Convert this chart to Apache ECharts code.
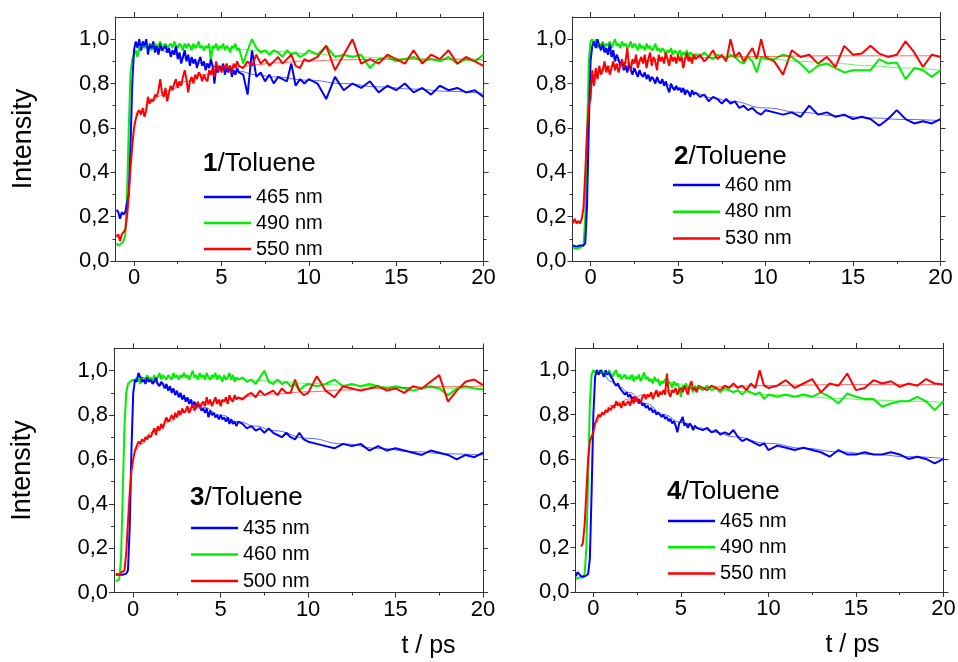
<!DOCTYPE html>
<html>
<head>
<meta charset="utf-8">
<script src="https://cdn.jsdelivr.net/npm/echarts@6/dist/echarts.min.js"></script>
<style>
  html, body { margin: 0; padding: 0; background: #fff; }
  #chart { width: 958px; height: 662px; }
</style>
</head>
<body>
<div id="chart"></div>
<script>
// Delay times (ps) shared by all transients: dense near time zero, sparser later
const timePs = [
  -1.0,-0.9,-0.8,-0.7,-0.6,-0.5,-0.4,-0.3,-0.2,-0.1,
  0.0,0.1,0.2,0.3,0.4,0.5,0.6,0.7,0.8,0.9,
  1.0,1.1,1.2,1.3,1.4,1.5,1.6,1.7,1.8,1.9,
  2.0,2.1,2.2,2.3,2.4,2.5,2.6,2.7,2.8,2.9,
  3.0,3.1,3.2,3.3,3.4,3.5,3.6,3.7,3.8,3.9,
  4.0,4.1,4.2,4.3,4.4,4.5,4.6,4.7,4.8,4.9,
  5.0,5.1,5.2,5.3,5.4,5.5,5.6,5.7,5.8,5.9,
  6.0,
  6.25,6.5,6.75,7.0,7.25,7.5,7.75,8.0,8.25,8.5,8.75,9.0,9.25,9.5,9.75,10.0,
  10.5,11,11.5,12,12.5,13,13.5,14,14.5,15,15.5,16,16.5,17,17.5,18,18.5,19,19.5,20
];

// Times at which the fitted curves are tabulated
const fitTime = [0.2,0.5,1,1.5,2,3,4,5,6,7,8,10,12,14,16,18,20];

// Axis ticks
const timeTicks = [0, 5, 10, 15, 20];
const timeMinorTicks = [2.5, 7.5, 12.5, 17.5];
const intensityTicks = [0, 0.2, 0.4, 0.6, 0.8, 1.0];
const intensityMinorTicks = [0.1, 0.3, 0.5, 0.7, 0.9];

// Probe wavelengths per compound
const waves1 = ['465 nm', '490 nm', '550 nm'];
const waves2 = ['460 nm', '480 nm', '530 nm'];
const waves3 = ['435 nm', '460 nm', '500 nm'];
const waves4 = ['465 nm', '490 nm', '550 nm'];

// ---- Compound 1 / toluene ----
const p1Blue = [
  0.23,0.22,0.19,0.22,0.21,0.22,0.22,0.30,0.52,0.80,
  0.95,0.99,0.96,1.00,0.95,0.99,0.97,1.00,0.93,0.98,
  0.96,0.99,0.94,0.97,0.93,0.98,0.95,0.96,0.97,0.94,
  0.96,0.92,0.95,0.93,0.97,0.91,0.94,0.89,0.92,0.95,
  0.90,0.93,0.88,0.92,0.89,0.91,0.87,0.90,0.92,0.88,
  0.90,0.86,0.89,0.87,0.91,0.88,0.80,0.87,0.85,0.88,
  0.86,0.89,0.84,0.87,0.85,0.88,0.83,0.86,0.84,0.87,
  0.85,
  0.84,0.75,0.95,0.83,0.85,0.81,0.84,0.80,0.83,0.82,0.81,0.89,0.79,0.82,0.80,0.82,
  0.80,0.73,0.83,0.77,0.80,0.78,0.81,0.76,0.79,0.77,0.80,0.76,0.78,0.75,0.79,0.77,0.78,0.76,0.77,0.74
];
const p1Green = [
  0.08,0.07,0.07,0.08,0.09,0.12,0.30,0.60,0.85,0.91,
  0.93,0.95,0.92,0.96,0.95,0.97,0.96,0.98,0.96,0.97,
  0.95,0.97,0.98,0.96,0.97,0.99,0.96,0.97,0.98,0.96,
  0.97,0.98,0.96,0.99,0.97,0.96,0.98,0.97,0.95,0.98,
  0.96,0.98,0.97,0.95,0.98,0.96,0.97,0.99,0.96,0.97,
  0.95,0.97,0.96,0.98,0.90,0.97,0.96,0.98,0.95,0.97,
  0.96,0.98,0.95,0.97,0.96,0.94,0.97,0.96,0.98,0.95,
  0.96,
  0.89,0.95,1.00,0.96,0.94,0.95,0.93,0.95,0.94,0.92,0.95,0.93,0.94,0.92,0.93,0.95,
  0.93,0.97,0.92,0.93,0.92,0.93,0.87,0.91,0.92,0.90,0.91,0.92,0.90,0.91,0.90,0.92,0.89,0.91,0.90,0.93
];
const p1Red = [
  0.11,0.12,0.09,0.12,0.13,0.14,0.20,0.30,0.42,0.52,
  0.60,0.64,0.67,0.68,0.66,0.69,0.65,0.68,0.74,0.71,
  0.73,0.72,0.75,0.74,0.77,0.82,0.76,0.74,0.78,0.72,
  0.76,0.79,0.77,0.80,0.82,0.78,0.81,0.79,0.83,0.86,
  0.82,0.76,0.81,0.83,0.80,0.84,0.82,0.85,0.84,0.81,
  0.84,0.82,0.81,0.86,0.84,0.87,0.83,0.90,0.86,0.88,
  0.85,0.88,0.87,0.89,0.86,0.88,0.85,0.89,0.87,0.90,
  0.88,
  0.87,0.90,0.88,0.93,0.89,0.91,0.88,0.90,0.92,0.89,0.91,0.93,0.88,0.87,0.91,0.90,
  0.92,0.97,0.86,0.93,1.00,0.89,0.91,0.89,0.93,0.91,0.89,0.95,0.89,0.93,0.91,0.95,0.89,0.92,0.90,0.88
];
const p1BlueFit  = [0.98,0.97,0.96,0.95,0.94,0.915,0.89,0.87,0.855,0.84,0.83,0.815,0.80,0.785,0.775,0.765,0.755];
const p1GreenFit = [0.96,0.97,0.975,0.975,0.972,0.968,0.964,0.96,0.955,0.95,0.945,0.935,0.925,0.918,0.912,0.907,0.905];
const p1RedFit   = [0.65,0.68,0.72,0.745,0.77,0.81,0.84,0.86,0.875,0.885,0.893,0.902,0.907,0.909,0.91,0.91,0.91];

// ---- Compound 2 / toluene ----
const p2Blue = [
  0.07,0.07,0.065,0.07,0.07,0.065,0.07,0.08,0.25,0.60,
  0.90,0.97,0.99,0.96,1.00,0.97,0.95,0.98,0.94,0.96,
  0.93,0.98,0.92,0.95,0.90,0.93,0.91,0.88,0.90,0.86,
  0.88,0.85,0.89,0.86,0.84,0.87,0.85,0.83,0.86,0.84,
  0.83,0.85,0.82,0.84,0.81,0.83,0.82,0.80,0.83,0.81,
  0.80,0.82,0.79,0.81,0.78,0.76,0.80,0.78,0.77,0.79,
  0.77,0.78,0.76,0.78,0.75,0.77,0.76,0.74,0.77,0.75,
  0.76,
  0.74,0.75,0.72,0.74,0.73,0.71,0.73,0.71,0.72,0.69,0.70,0.68,0.69,0.67,0.66,0.68,
  0.67,0.66,0.67,0.65,0.70,0.66,0.67,0.65,0.66,0.64,0.65,0.64,0.61,0.64,0.68,0.64,0.62,0.63,0.62,0.64
];
const p2Green = [
  0.06,0.06,0.055,0.06,0.06,0.06,0.07,0.20,0.55,0.90,
  0.99,1.00,0.97,1.00,0.96,0.98,0.97,0.99,0.96,0.98,
  0.97,0.99,0.96,0.98,1.00,0.97,0.98,0.96,0.99,0.97,
  0.98,0.96,0.97,0.99,0.96,0.98,0.97,0.95,0.98,0.96,
  0.97,0.95,0.98,0.96,0.97,0.95,0.96,0.98,0.95,0.96,
  0.94,0.96,0.95,0.93,0.95,0.94,0.96,0.93,0.95,0.94,
  0.93,0.95,0.92,0.94,0.93,0.95,0.92,0.94,0.93,0.91,
  0.93,
  0.92,0.94,0.92,0.91,0.93,0.92,0.91,0.93,0.92,0.90,0.89,0.92,0.90,0.85,0.92,0.91,
  0.91,0.93,0.92,0.89,0.85,0.88,0.89,0.87,0.85,0.86,0.86,0.86,0.91,0.89,0.895,0.82,0.87,0.86,0.83,0.86
];
const p2Red = [
  0.17,0.19,0.17,0.18,0.17,0.19,0.24,0.40,0.58,0.70,
  0.73,0.86,0.79,0.87,0.82,0.88,0.84,0.86,0.90,0.85,
  0.88,0.84,0.87,0.90,0.86,0.89,0.85,0.88,0.91,0.87,
  0.90,0.96,0.88,0.86,0.91,0.89,0.93,0.87,0.90,0.92,
  0.89,0.93,0.87,0.91,0.94,0.88,0.92,0.90,0.86,0.93,
  0.90,0.92,0.89,0.94,0.91,0.88,0.93,0.90,0.92,0.89,
  0.93,0.90,0.92,0.87,0.91,0.94,0.90,0.92,0.89,0.93,
  0.91,
  0.93,0.90,0.92,0.95,0.91,0.93,0.90,1.00,0.92,0.94,0.90,0.93,0.96,0.91,1.00,0.92,
  0.90,0.84,0.95,0.92,0.93,0.89,0.92,0.875,0.97,0.93,0.935,0.97,0.935,0.92,0.93,0.99,0.94,0.875,0.93,0.92
];
const p2BlueFit  = [0.99,0.97,0.935,0.905,0.88,0.84,0.805,0.78,0.755,0.735,0.72,0.69,0.67,0.655,0.645,0.638,0.633];
const p2GreenFit = [0.98,0.978,0.975,0.972,0.97,0.96,0.952,0.943,0.935,0.928,0.922,0.912,0.90,0.89,0.88,0.87,0.86];
const p2RedFit   = [0.80,0.85,0.875,0.885,0.893,0.903,0.91,0.913,0.916,0.918,0.92,0.922,0.924,0.925,0.925,0.925,0.925];

// ---- Compound 3 / toluene ----
const p3Blue = [
  0.08,0.08,0.08,0.085,0.08,0.08,0.085,0.10,0.30,0.65,
  0.90,0.96,0.95,0.99,0.97,0.95,0.96,0.94,0.97,0.95,
  0.96,0.94,0.95,0.97,0.94,0.93,0.95,0.94,0.92,0.94,
  0.91,0.93,0.90,0.92,0.89,0.91,0.88,0.90,0.87,0.89,
  0.86,0.88,0.85,0.87,0.84,0.86,0.83,0.85,0.84,0.82,
  0.83,0.81,0.83,0.79,0.82,0.80,0.81,0.79,0.80,0.78,
  0.80,0.78,0.79,0.77,0.79,0.76,0.78,0.76,0.77,0.75,
  0.77,
  0.76,0.74,0.75,0.73,0.74,0.72,0.74,0.72,0.71,0.70,0.72,0.70,0.69,0.72,0.69,0.68,
  0.67,0.66,0.65,0.67,0.66,0.67,0.64,0.66,0.64,0.65,0.64,0.63,0.62,0.64,0.63,0.62,0.60,0.62,0.61,0.63
];
const p3Green = [
  0.05,0.05,0.06,0.15,0.45,0.75,0.90,0.94,0.95,0.95,
  0.96,0.95,0.97,0.96,0.94,0.97,0.95,0.96,0.98,0.96,
  0.97,0.95,0.98,0.96,0.97,0.99,0.96,0.98,0.97,0.96,
  0.98,0.97,0.96,0.99,0.97,0.98,0.96,0.98,0.97,0.99,
  0.97,0.98,0.96,0.98,1.00,0.97,0.98,0.96,0.99,0.97,
  0.98,0.96,0.99,0.97,0.96,0.98,0.97,0.99,0.96,0.98,
  0.97,0.95,0.98,0.96,0.97,0.99,0.96,0.98,0.95,0.97,
  0.96,
  0.97,0.95,0.96,0.94,0.97,1.00,0.95,0.94,0.96,0.94,0.95,0.93,0.94,0.91,0.93,0.94,
  0.93,0.94,0.96,0.93,0.94,0.93,0.94,0.93,0.92,0.93,0.92,0.91,0.92,0.93,0.92,0.89,0.92,0.93,0.92,0.915
];
const p3Red = [
  0.085,0.085,0.08,0.09,0.085,0.10,0.18,0.32,0.45,0.55,
  0.60,0.64,0.66,0.68,0.67,0.69,0.68,0.70,0.69,0.71,
  0.70,0.72,0.74,0.71,0.75,0.73,0.76,0.74,0.77,0.79,
  0.77,0.78,0.80,0.78,0.81,0.79,0.82,0.80,0.83,0.81,
  0.82,0.84,0.81,0.83,0.85,0.82,0.84,0.86,0.83,0.85,
  0.86,0.84,0.88,0.85,0.87,0.84,0.86,0.88,0.85,0.87,
  0.84,0.87,0.86,0.88,0.85,0.89,0.87,0.86,0.89,0.87,
  0.88,
  0.87,0.89,0.90,0.88,0.91,0.89,0.90,0.91,0.89,0.92,0.90,0.90,0.96,0.91,0.89,0.90,
  0.975,0.91,0.88,0.93,0.92,0.91,0.92,0.93,0.91,0.92,0.90,0.93,0.92,0.95,0.98,0.86,0.91,0.95,0.96,0.935
];
const p3BlueFit  = [0.98,0.97,0.955,0.94,0.92,0.875,0.835,0.80,0.77,0.75,0.73,0.695,0.67,0.65,0.635,0.625,0.62];
const p3GreenFit = [0.96,0.965,0.968,0.97,0.97,0.968,0.966,0.963,0.96,0.957,0.953,0.943,0.935,0.928,0.924,0.921,0.92];
const p3RedFit   = [0.64,0.67,0.72,0.745,0.77,0.815,0.845,0.865,0.878,0.888,0.895,0.905,0.913,0.92,0.925,0.928,0.93];

// ---- Compound 4 / toluene ----
const p4Blue = [
  0.07,0.09,0.08,0.07,0.07,0.07,0.07,0.08,0.15,0.45,
  0.80,0.97,1.00,0.98,1.00,0.99,0.97,1.00,0.98,0.99,
  0.97,0.96,0.94,0.93,0.94,0.92,0.91,0.90,0.89,0.90,
  0.88,0.89,0.87,0.88,0.86,0.87,0.85,0.86,0.84,0.85,
  0.83,0.84,0.82,0.83,0.81,0.82,0.80,0.81,0.80,0.79,
  0.80,0.78,0.79,0.77,0.78,0.76,0.77,0.75,0.72,0.76,
  0.77,0.79,0.75,0.76,0.74,0.76,0.75,0.73,0.75,0.74,
  0.74,
  0.73,0.74,0.72,0.73,0.71,0.72,0.71,0.73,0.70,0.68,0.69,0.68,0.67,0.66,0.67,0.64,
  0.66,0.65,0.64,0.65,0.64,0.63,0.61,0.64,0.62,0.62,0.63,0.62,0.62,0.63,0.62,0.60,0.61,0.60,0.58,0.60
];
const p4Green = [
  0.06,0.06,0.065,0.06,0.065,0.08,0.20,0.50,0.85,0.98,
  1.00,0.99,1.00,0.98,0.99,1.00,0.97,0.99,0.98,1.00,
  0.98,0.97,0.99,1.00,0.97,0.98,0.96,0.97,0.98,0.96,
  0.97,0.96,0.98,0.95,0.97,0.96,0.98,0.95,0.97,0.99,
  0.96,0.97,0.95,0.96,0.94,0.97,0.95,0.96,0.93,0.95,
  0.94,0.96,0.93,0.95,0.94,0.92,0.95,0.93,0.94,0.92,
  0.88,0.93,0.92,0.94,0.91,0.93,0.92,0.90,0.93,0.91,
  0.92,
  0.91,0.93,0.91,0.92,0.90,0.92,0.91,0.90,0.91,0.89,0.91,0.90,0.89,0.90,0.87,0.89,
  0.88,0.89,0.88,0.89,0.88,0.90,0.88,0.85,0.895,0.88,0.87,0.87,0.835,0.85,0.86,0.86,0.88,0.86,0.82,0.86
];
const p4Red = [
  null,null,null,0.205,0.22,0.30,0.45,0.60,0.68,0.70,
  0.72,0.76,0.78,0.80,0.79,0.81,0.80,0.82,0.81,0.83,
  0.82,0.84,0.83,0.86,0.84,0.85,0.83,0.86,0.84,0.85,
  0.86,0.84,0.87,0.85,0.88,0.86,0.87,0.85,0.88,0.89,
  0.87,0.89,0.88,0.90,0.87,0.89,0.91,0.88,0.90,0.89,
  0.91,0.89,0.985,0.90,0.88,0.91,0.90,0.92,0.89,0.91,
  0.92,0.90,0.93,0.91,0.89,0.93,0.95,0.91,0.92,0.90,
  0.93,
  0.92,0.91,0.93,0.92,0.91,0.93,0.92,0.94,0.92,0.93,0.91,0.94,0.92,1.00,0.93,0.92,
  0.93,0.955,0.92,0.94,0.96,0.90,0.94,0.93,0.985,0.91,0.92,0.955,0.94,0.95,0.925,0.94,0.93,0.96,0.94,0.935
];
const p4BlueFit  = [1.0,0.985,0.95,0.925,0.90,0.85,0.80,0.765,0.74,0.72,0.70,0.67,0.648,0.632,0.62,0.61,0.602];
const p4GreenFit = [0.995,0.99,0.985,0.98,0.975,0.962,0.95,0.937,0.925,0.914,0.905,0.89,0.88,0.872,0.865,0.86,0.855];
const p4RedFit   = [0.76,0.80,0.84,0.855,0.87,0.89,0.905,0.915,0.92,0.925,0.928,0.931,0.933,0.935,0.935,0.935,0.935];

// ---------------------------------------------------------------
const FONT = '"Liberation Sans", Arial, Helvetica, sans-serif';
const AXIS_COLOR = '#333';
const BLUE = '#0000ff', GREEN = '#00ee00', RED = '#ff0000';
const PANEL_H = 244;

// Layout of the four panels (pixel boxes) and their legends / headings
const panels = [
  { tag: '1', waves: waves1, data: [p1Blue, p1Green, p1Red], fits: [p1BlueFit, p1GreenFit, p1RedFit],
    box: { left: 115.5, top: 17, width: 368 }, xMin: -1.06, leftCol: true, bottomRow: false,
    legend: { left: 204, top: 187, gap: 6 }, heading: { left: 203, top: 151 } },
  { tag: '2', waves: waves2, data: [p2Blue, p2Green, p2Red], fits: [p2BlueFit, p2GreenFit, p2RedFit],
    box: { left: 572.5, top: 17, width: 368 }, xMin: -1.03, leftCol: false, bottomRow: false,
    legend: { left: 673, top: 175, gap: 6.7 }, heading: { left: 674, top: 143.5 } },
  { tag: '3', waves: waves3, data: [p3Blue, p3Green, p3Red], fits: [p3BlueFit, p3GreenFit, p3RedFit],
    box: { left: 114, top: 348.5, width: 369 }, xMin: -1.1, leftCol: true, bottomRow: true, nameShift: 130,
    legend: { left: 191, top: 518, gap: 6.5 }, heading: { left: 190, top: 484.5 } },
  { tag: '4', waves: waves4, data: [p4Blue, p4Green, p4Red], fits: [p4BlueFit, p4GreenFit, p4RedFit],
    box: { left: 575.5, top: 348, width: 368 }, xMin: -1.02, leftCol: false, bottomRow: true, nameShift: 93,
    legend: { left: 668, top: 511, gap: 6.3 }, heading: { left: 667, top: 479 } }
];

const colors = [BLUE, GREEN, RED];
const drawOrder = [1, 0, 2];   // green underneath, then blue, red on top

const grids = [], xAxes = [], yAxes = [], series = [], legends = [], titles = [];
const fmtIntensity = v => v.toFixed(1).replace('.', ',');

panels.forEach((p, k) => {
  // each panel: a main grid (major ticks, labels, frame) and a twin grid carrying the minor ticks
  [false, true].forEach(minor => {
    const gi = grids.length;
    grids.push({ left: p.box.left, top: p.box.top, width: p.box.width, height: PANEL_H,
                 containLabel: false, outerBoundsMode: 'none' });
    const len = minor ? 3 : 5;
    ['bottom', 'top'].forEach(pos => {
      const labelled = !minor && pos === 'bottom';
      const ax = {
        gridIndex: gi, type: 'value', position: pos, min: p.xMin, max: 20,
        axisLine: { show: !minor, onZero: false, lineStyle: { color: AXIS_COLOR, width: 1 } },
        axisTick: { show: true, inside: false, length: len,
                    customValues: minor ? timeMinorTicks : timeTicks,
                    lineStyle: { color: AXIS_COLOR, width: 1 } },
        axisLabel: { show: labelled, customValues: timeTicks, margin: 6,
                     fontSize: 22, color: '#000', fontFamily: FONT },
        splitLine: { show: false }, minorTick: { show: false }
      };
      if (labelled && p.bottomRow) {
        Object.assign(ax, { name: 't / ps', nameLocation: 'middle', nameGap: 41,
          nameTextStyle: { fontSize: 25, color: '#000', fontFamily: FONT,
                           padding: [0, 0, 0, p.nameShift * 2] } });
      }
      xAxes.push(ax);
    });
    ['left', 'right'].forEach(pos => {
      const labelled = !minor && pos === 'left';
      const ax = {
        gridIndex: gi, type: 'value', position: pos, min: 0, max: 1.1,
        axisLine: { show: !minor, onZero: false, lineStyle: { color: AXIS_COLOR, width: 1 } },
        axisTick: { show: true, inside: false, length: len,
                    customValues: minor ? intensityMinorTicks : intensityTicks,
                    lineStyle: { color: AXIS_COLOR, width: 1 } },
        axisLabel: { show: labelled, customValues: intensityTicks, margin: 6,
                     fontSize: 22, color: '#000', fontFamily: FONT, formatter: fmtIntensity },
        splitLine: { show: false }, minorTick: { show: false }
      };
      if (labelled && p.leftCol) {
        Object.assign(ax, { name: 'Intensity', nameLocation: 'middle', nameGap: 78,
          nameTextStyle: { fontSize: 27, color: '#000', fontFamily: FONT } });
      }
      yAxes.push(ax);
    });
  });

  const axisIdx = 4 * k;   // bottom x / left y of the main grid
  drawOrder.forEach(j => {
    series.push({
      type: 'line', name: p.tag + ':' + p.waves[j],
      xAxisIndex: axisIdx, yAxisIndex: axisIdx,
      data: timePs.map((t, i) => [t, p.data[j][i]]).filter(d => d[1] != null),
      symbol: 'none', silent: true, z: 2,
      lineStyle: { width: 2, color: colors[j] }, itemStyle: { color: colors[j] }
    });
  });
  drawOrder.forEach(j => {
    series.push({
      type: 'line', name: p.tag + ':fit ' + p.waves[j],
      xAxisIndex: axisIdx, yAxisIndex: axisIdx,
      data: fitTime.map((t, i) => [t, p.fits[j][i]]),
      smooth: true, smoothMonotone: 'x', symbol: 'none', silent: true, z: 3,
      lineStyle: { width: 1, color: colors[j], opacity: 0.6 }, itemStyle: { color: colors[j] }
    });
  });

  legends.push({
    orient: 'vertical', left: p.legend.left, top: p.legend.top, padding: 0,
    itemGap: p.legend.gap, itemWidth: 47, itemHeight: 2.5, icon: 'rect', selectedMode: false,
    data: p.waves.map(w => p.tag + ':' + w),
    formatter: n => n.slice(n.indexOf(':') + 1),
    textStyle: { fontSize: 20, lineHeight: 20, color: '#000', fontFamily: FONT }
  });

  titles.push({
    text: '{b|' + p.tag + '}/Toluene', left: p.heading.left, top: p.heading.top, padding: 0,
    textStyle: { fontSize: 26, lineHeight: 26, fontWeight: 'normal', color: '#000', fontFamily: FONT,
      rich: { b: { fontSize: 26, lineHeight: 26, fontWeight: 'bold', color: '#000', fontFamily: FONT } } }
  });
});

const chart = echarts.init(document.getElementById('chart'), null, { renderer: 'canvas' });
chart.setOption({
  animation: false,
  backgroundColor: '#fff',
  textStyle: { fontFamily: FONT },
  title: titles,
  legend: legends,
  grid: grids,
  xAxis: xAxes,
  yAxis: yAxes,
  series: series
});
</script>
</body>
</html>
